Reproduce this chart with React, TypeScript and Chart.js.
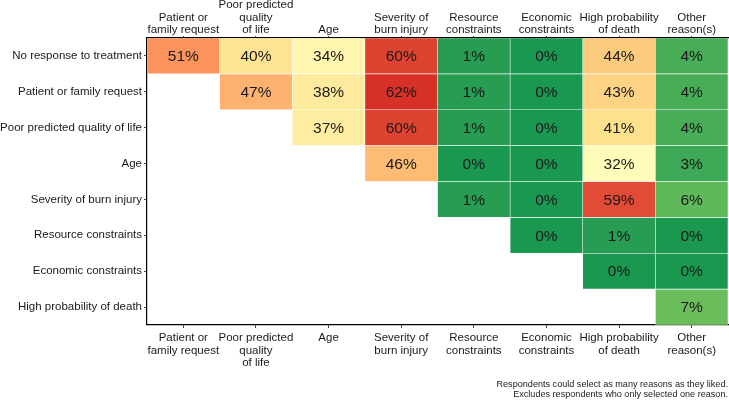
import React, { useEffect, useRef } from "react";
import { Chart, registerables } from "chart.js";

Chart.register(...registerables);

const colLabels: string[][] = [
  ["Patient or", "family request"],
  ["Poor predicted", "quality", "of life"],
  ["Age"],
  ["Severity of", "burn injury"],
  ["Resource", "constraints"],
  ["Economic", "constraints"],
  ["High probability", "of death"],
  ["Other", "reason(s)"],
];

const rowLabels: string[] = [
  "No response to treatment",
  "Patient or family request",
  "Poor predicted quality of life",
  "Age",
  "Severity of burn injury",
  "Resource constraints",
  "Economic constraints",
  "High probability of death",
];

const rowNoResponse = [51, 40, 34, 60, 1, 0, 44, 4];
const rowPatient = [null, 47, 38, 62, 1, 0, 43, 4];
const rowPoorQoL = [null, null, 37, 60, 1, 0, 41, 4];
const rowAge = [null, null, null, 46, 0, 0, 32, 3];
const rowSeverity = [null, null, null, null, 1, 0, 59, 6];
const rowResource = [null, null, null, null, null, 0, 1, 0];
const rowEconomic = [null, null, null, null, null, null, 0, 0];
const rowHighProb = [null, null, null, null, null, null, null, 7];

const matrix: (number | null)[][] = [
  rowNoResponse,
  rowPatient,
  rowPoorQoL,
  rowAge,
  rowSeverity,
  rowResource,
  rowEconomic,
  rowHighProb,
];

const footnote = [
  "Respondents could select as many reasons as they liked.",
  "Excludes respondents who only selected one reason.",
];

const palette = ["#1A9850", "#91CF60", "#D9EF8B", "#FFFFBF", "#FEE08B", "#FC8D59", "#D73027"];
const scaleMax = 62;

function hexToRgb(h: string): number[] {
  const n = parseInt(h.slice(1), 16);
  return [(n >> 16) & 255, (n >> 8) & 255, n & 255];
}

function colorFor(v: number): string {
  const t = Math.max(0, Math.min(1, v / scaleMax)) * (palette.length - 1);
  const i = Math.min(palette.length - 2, Math.floor(t));
  const f = t - i;
  const a = hexToRgb(palette[i]);
  const b = hexToRgb(palette[i + 1]);
  const c = a.map((x, k) => Math.round(x + (b[k] - x) * f));
  return `rgb(${c[0]},${c[1]},${c[2]})`;
}

const FONT = "'Liberation Sans', Arial, sans-serif";

const cellTextPlugin = {
  id: "cellText",
  afterDatasetsDraw(chart: any) {
    const ctx = chart.ctx;
    ctx.save();
    ctx.font = `15.5px ${FONT}`;
    ctx.fillStyle = "#1a1a1a";
    ctx.textAlign = "center";
    ctx.textBaseline = "middle";
    chart.data.datasets.forEach((ds: any, i: number) => {
      const meta = chart.getDatasetMeta(i);
      meta.data.forEach((el: any, j: number) => {
        const v = matrix[i][j];
        if (v === null || v === undefined) return;
        const p = el.getCenterPoint();
        ctx.fillText(`${v}%`, p.x, p.y + 1);
      });
    });
    ctx.restore();
  },
};

export default function App() {
  const ref = useRef<HTMLCanvasElement | null>(null);

  useEffect(() => {
    if (!ref.current) return;
    const datasets = matrix.map((row, r) => ({
      label: rowLabels[r],
      data: row.map((v) => (v === null ? null : [r - 0.5, r + 0.5])) as any,
      backgroundColor: row.map((v) => (v === null ? "rgba(0,0,0,0)" : colorFor(v))),
      borderColor: "rgba(255,255,255,0.35)",
      borderWidth: 0.6,
      borderSkipped: false,
      grouped: false,
      barPercentage: 1,
      categoryPercentage: 1,
      xAxisID: "x",
      yAxisID: "y",
    }));

    const tickFont = { family: FONT, size: 11.5, lineHeight: 1.07 };

    const chart = new Chart(ref.current, {
      type: "bar",
      data: { labels: colLabels as any, datasets: datasets as any },
      plugins: [cellTextPlugin],
      options: {
        animation: false,
        responsive: true,
        maintainAspectRatio: false,
        layout: { padding: { left: 0, right: 1, top: 0, bottom: 0 } },
        plugins: {
          legend: { display: false },
          tooltip: { enabled: false },
          title: {
            display: true,
            position: "bottom",
            align: "end",
            text: footnote,
            color: "#222",
            font: { family: FONT, size: 9.1, weight: "normal", lineHeight: 1.1 },
            padding: { top: 4, bottom: 8 },
          },
        },
        scales: {
          x: {
            type: "category",
            position: "bottom",
            offset: true,
            grid: {
              display: true,
              drawOnChartArea: false,
              drawTicks: true,
              tickLength: 3,
              offset: false,
              color: "#444",
            },
            border: { display: true, color: "#000", width: 1.2 },
            ticks: { color: "#1a1a1a", font: tickFont as any, padding: 4, maxRotation: 0, autoSkip: false },
            afterFit: (s: any) => {
              s.height = 50;
            },
          },
          x2: {
            type: "category",
            position: "top",
            labels: colLabels as any,
            offset: true,
            grid: {
              display: true,
              drawOnChartArea: false,
              drawTicks: true,
              tickLength: 2,
              offset: false,
              color: "#444",
            },
            border: { display: true, color: "#000", width: 1.2 },
            ticks: { color: "#1a1a1a", font: tickFont as any, padding: 0, maxRotation: 0, autoSkip: false },
            afterFit: (s: any) => {
              s.height = 38;
            },
          },
          y: {
            type: "linear",
            reverse: true,
            min: -0.5,
            max: 7.5,
            afterBuildTicks: (s: any) => {
              s.ticks = rowLabels.map((_, i) => ({ value: i }));
            },
            grid: {
              display: true,
              drawOnChartArea: false,
              drawTicks: true,
              tickLength: 3,
              color: "#444",
            },
            border: { display: true, color: "#000", width: 1.2 },
            ticks: {
              color: "#1a1a1a",
              font: tickFont as any,
              padding: 2,
              autoSkip: false,
              callback: (v: any) => rowLabels[v as number] ?? "",
            },
            afterFit: (s: any) => {
              s.width = 147;
            },
          },
        },
      } as any,
    });
    return () => chart.destroy();
  }, []);

  return (
    <div style={{ position: "fixed", left: 0, top: 0, width: 729, height: 407, background: "#fff" }}>
      <canvas ref={ref} />
    </div>
  );
}
